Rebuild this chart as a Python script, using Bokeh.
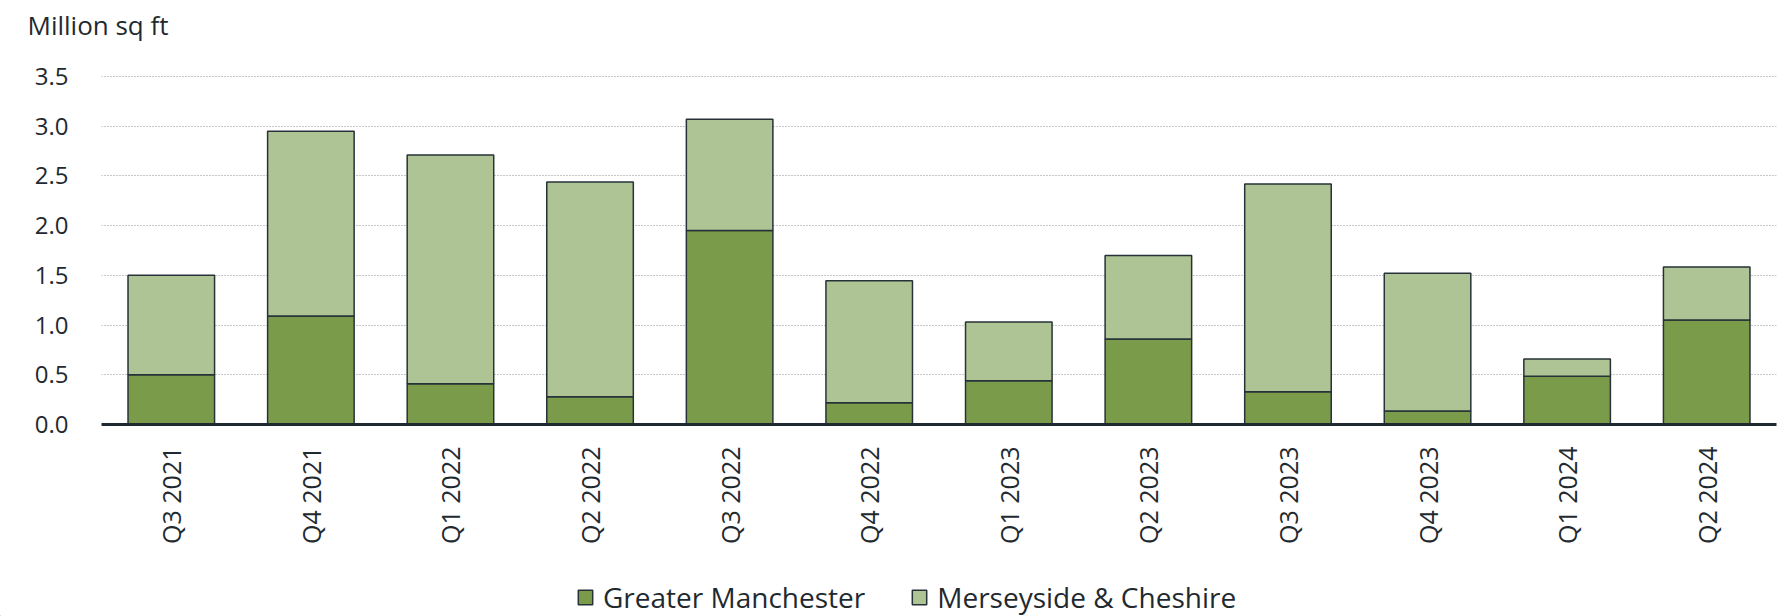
from bokeh.plotting import figure
from bokeh.models import FactorRange, Range1d, Legend, FixedTicker, NumeralTickFormatter, Label
from bokeh.embed import file_html
from bokeh.resources import INLINE
import math

quarters = ["Q3 2021", "Q4 2021", "Q1 2022", "Q2 2022", "Q3 2022", "Q4 2022",
            "Q1 2023", "Q2 2023", "Q3 2023", "Q4 2023", "Q1 2024", "Q2 2024"]
greater_manchester = [0.50, 1.09, 0.41, 0.28, 1.95, 0.22, 0.44, 0.86, 0.33, 0.135, 0.485, 1.05]
merseyside_cheshire = [1.00, 1.86, 2.30, 2.16, 1.12, 1.225, 0.59, 0.84, 2.09, 1.385, 0.175, 0.535]
y_ticks = [0.0, 0.5, 1.0, 1.5, 2.0, 2.5, 3.0, 3.5]

series = ["Greater Manchester", "Merseyside & Cheshire"]
colors = ["#7a9c4a", "#afc494"]
FONT = "Open Sans"
TXT = "#1f2a30"
EDGE = "#263238"
W = 1782


def strip(h):
    f = figure(width=W, height=h, output_backend="svg", toolbar_location=None,
               x_range=Range1d(0, 1), y_range=Range1d(0, 1),
               x_axis_location=None, y_axis_location=None,
               min_border_left=0, min_border_right=0, min_border_top=0, min_border_bottom=0)
    f.outline_line_color = None
    f.grid.visible = False
    return f


# unit caption above the chart
top = strip(48)
top.add_layout(Label(x=27, y=24, x_units="screen", y_units="screen", text="Million sq ft",
                     text_font=FONT, text_font_size="26px", text_color=TXT,
                     text_baseline="alphabetic"))

data = {"q": quarters, "Greater Manchester": greater_manchester,
        "Merseyside & Cheshire": merseyside_cheshire}

p = figure(width=W, height=512, output_backend="svg", toolbar_location=None,
           x_range=FactorRange(factors=quarters, range_padding=0),
           y_range=Range1d(0, 3.52),
           min_border_left=101, min_border_right=6, min_border_top=26, min_border_bottom=136)

rs = p.vbar_stack(series, x="q", width=0.62, source=data, fill_color=colors,
                  line_color=EDGE, line_width=1.5)

p.outline_line_color = None
p.xgrid.grid_line_color = None
p.ygrid.grid_line_color = "#8f8f8f"
p.ygrid.grid_line_dash = "1 2"
p.ygrid.grid_line_width = 1
p.yaxis.ticker = FixedTicker(ticks=y_ticks)
p.yaxis.formatter = NumeralTickFormatter(format="0.0")
p.yaxis.axis_line_color = None
p.yaxis.major_tick_line_color = None
p.yaxis.minor_tick_line_color = None
p.yaxis.major_label_standoff = 27
p.yaxis.major_label_text_font = FONT
p.yaxis.major_label_text_font_size = "24px"
p.yaxis.major_label_text_color = TXT

p.xaxis.axis_line_color = TXT
p.xaxis.axis_line_width = 3
p.xaxis.major_tick_line_color = None
p.xaxis.minor_tick_line_color = None
p.xaxis.major_label_orientation = math.pi / 2
p.xaxis.major_label_standoff = 16
p.xaxis.major_label_text_font = FONT
p.xaxis.major_label_text_font_size = "25px"
p.xaxis.major_label_text_color = TXT

# legend strip below the chart
lg = strip(56)
proxies = [lg.vbar(x=[-10], top=[-10], width=0.5, fill_color=c, line_color=EDGE, line_width=1.5)
           for c in colors]
legend = Legend(items=[(s, [r]) for s, r in zip(series, proxies)], orientation="horizontal",
                location=(576, 0), glyph_width=18, glyph_height=18, label_standoff=9,
                spacing=45, padding=0, margin=0, border_line_color=None,
                background_fill_alpha=0,
                label_text_font=FONT, label_text_font_size="28px", label_text_color=TXT,
                label_height=18)
lg.add_layout(legend, "center")

open("out.html", "w").write(file_html([top, p, lg], INLINE))
